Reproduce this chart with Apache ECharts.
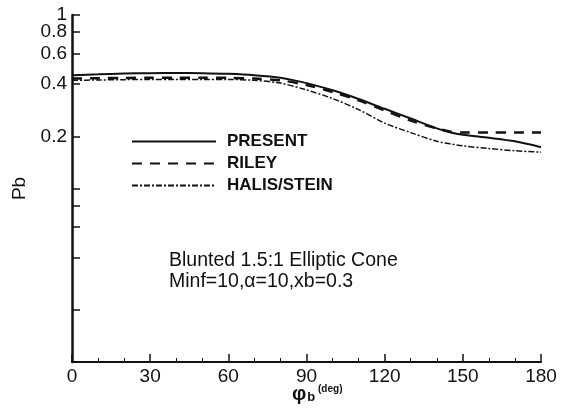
<!DOCTYPE html>
<html>
<head>
<meta charset="utf-8">
<script src="https://cdn.jsdelivr.net/npm/echarts@6/dist/echarts.min.js"></script>
<style>
  html, body { margin: 0; padding: 0; background: #fff; }
  #chart { width: 565px; height: 416px; }
</style>
</head>
<body>
<div id="chart"></div>
<script>
// phi_b (deg) where values were read
const phi = [0, 10, 20, 30, 40, 50, 60, 70, 80, 90, 100, 110, 120, 130, 140, 145, 150, 160, 170, 180];

const present = [0.45, 0.455, 0.46, 0.462, 0.463, 0.462, 0.458, 0.45, 0.435, 0.405, 0.368, 0.328, 0.288, 0.253, 0.222, 0.211, 0.204, 0.196, 0.187, 0.173];
const riley   = [0.43, 0.432, 0.434, 0.435, 0.435, 0.435, 0.434, 0.43, 0.42, 0.395, 0.36, 0.322, 0.282, 0.246, 0.222, 0.213, 0.21, 0.21, 0.21, 0.21];
const halis   = [0.42, 0.422, 0.424, 0.425, 0.425, 0.425, 0.425, 0.42, 0.405, 0.37, 0.33, 0.285, 0.238, 0.21, 0.187, 0.181, 0.176, 0.17, 0.165, 0.162];

const yLabels = [0.2, 0.4, 0.6, 0.8];
const yTopLabel = [1];
const yTicks = [0.01, 0.02, 0.04, 0.06, 0.08, 0.1, 0.2, 0.4, 0.6, 0.8, 1];

const pair = arr => phi.map((p, i) => [p, arr[i]]);
const ink = '#111';
const font = 'Liberation Sans, Arial, sans-serif';

const chart = echarts.init(document.getElementById('chart'), null, { renderer: 'canvas' });

const labelStyle = { color: ink, fontFamily: font, fontSize: 19, margin: 5 };

chart.setOption({
  animation: false,
  backgroundColor: '#fff',
  grid: { left: 72, right: 24, top: 15, bottom: 54 },
  legend: {
    orient: 'vertical',
    left: 126,
    top: 128,
    itemWidth: 84,
    itemHeight: 14,
    itemGap: 5,
    itemStyle: { opacity: 0 },
    textStyle: { color: ink, fontFamily: font, fontWeight: 'bold', fontSize: 17, lineHeight: 16, padding: [0, 0, 0, 6] },
    data: ['PRESENT', 'RILEY', 'HALIS/STEIN']
  },
  xAxis: {
    type: 'value',
    min: 0,
    max: 180,
    interval: 30,
    axisLine: { lineStyle: { color: ink, width: 2 } },
    axisTick: { inside: true, length: 8, lineStyle: { color: ink, width: 1.5 } },
    minorTick: { show: true, splitNumber: 3, length: 4, lineStyle: { color: ink } },
    splitLine: { show: false },
    axisLabel: labelStyle
  },
  yAxis: [
    {
      type: 'log',
      logBase: 10,
      min: 0.01,
      max: 1,
      position: 'left',
      axisLine: { show: true, lineStyle: { color: ink, width: 2.5 } },
      axisTick: { show: true, inside: true, length: 8, customValues: yTicks, lineStyle: { color: ink, width: 1.5 } },
      splitLine: { show: false },
      axisLabel: Object.assign({ customValues: yLabels }, labelStyle),
      name: 'Pb',
      nameLocation: 'middle',
      nameGap: 42,
      nameTextStyle: { color: ink, fontFamily: font, fontSize: 19 }
    },
    {
      type: 'log',
      logBase: 10,
      min: 0.01,
      max: 1,
      position: 'left',
      offset: 0,
      axisLine: { show: false },
      axisTick: { show: false },
      splitLine: { show: false },
      axisLabel: Object.assign({ customValues: yTopLabel, showMaxLabel: true }, labelStyle)
    }
  ],
  series: [
    {
      name: 'PRESENT', type: 'line', data: pair(present), symbol: 'none', smooth: 0.3,
      lineStyle: { color: ink, width: 2, type: 'solid' }, itemStyle: { color: ink }
    },
    {
      name: 'RILEY', type: 'line', data: pair(riley), symbol: 'none', smooth: 0.3,
      lineStyle: { color: ink, width: 2.5, type: [10, 8] }, itemStyle: { color: ink }
    },
    {
      name: 'HALIS/STEIN', type: 'line', data: pair(halis), symbol: 'none', smooth: 0.3,
      lineStyle: { color: ink, width: 1.5, type: [6, 2, 2, 2] }, itemStyle: { color: ink }
    }
  ],
  graphic: [
    {
      type: 'text', left: 169, top: 250,
      style: {
        text: 'Blunted 1.5:1 Elliptic Cone\nMinf=10,\u03b1=10,xb=0.3',
        fill: ink, font: '19.5px ' + font, lineHeight: 21
      }
    },
    {
      type: 'text', left: 292, top: 384,
      style: {
        text: '{phi|\u03c6}{sub|b}{deg| (deg)}',
        fill: ink,
        rich: {
          phi: { fontFamily: font, fontSize: 20, fontWeight: 'bold', fill: ink, verticalAlign: 'bottom' },
          sub: { fontFamily: font, fontSize: 13, fontWeight: 'bold', fill: ink, padding: [8, 0, 0, 1] },
          deg: { fontFamily: font, fontSize: 10, fontWeight: 'bold', fill: ink, padding: [0, 0, 8, 0] }
        }
      }
    }
  ]
});
</script>
</body>
</html>
